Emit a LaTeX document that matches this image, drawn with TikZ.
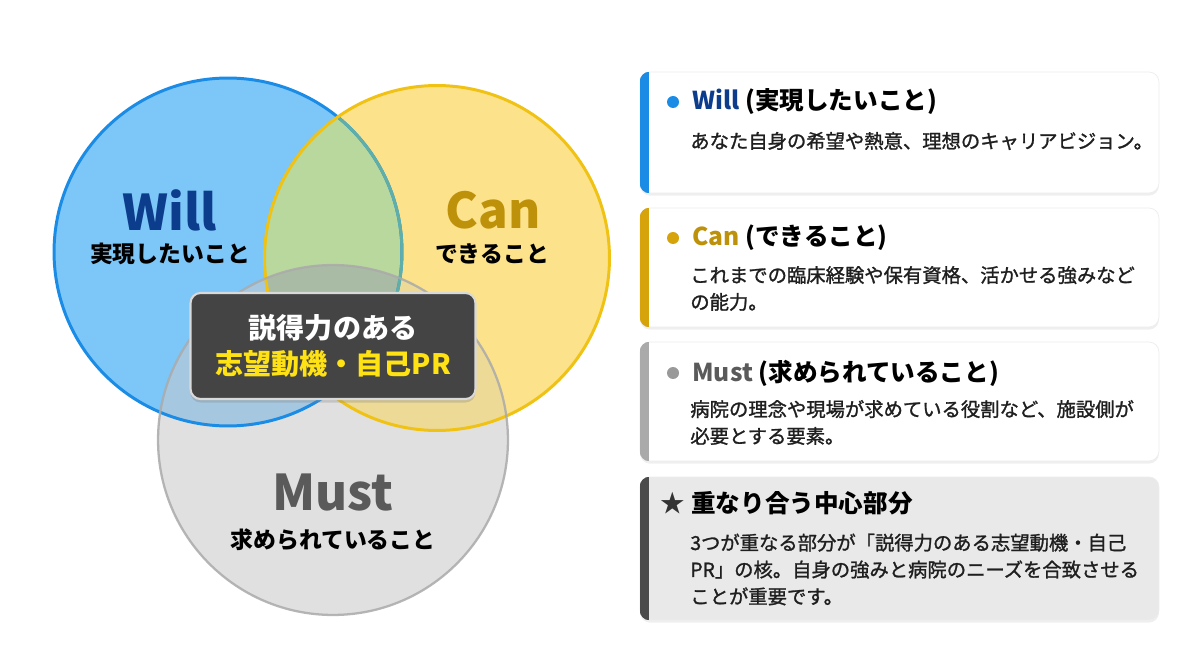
\documentclass[tikz,border=0pt]{standalone}
\usepackage{fontspec}
\setmainfont{Noto Sans CJK JP}
\newfontfamily\bodyfont{Noto Sans CJK JP}[FakeBold=1.3]
\usepackage{xcolor}
\usepackage{tikz}
\usetikzlibrary{positioning, calc, shadows}
\definecolor{willblue}{RGB}{26, 140, 230}
\definecolor{willfill}{RGB}{125, 198, 248}
\definecolor{willdark}{RGB}{12, 60, 140}
\definecolor{willteal}{RGB}{95, 175, 168}
\definecolor{cangold}{RGB}{240, 194, 20}
\definecolor{canfill}{RGB}{253, 226, 140}
\definecolor{candark}{RGB}{190, 145, 10}
\definecolor{canbar}{RGB}{214, 163, 10}
\definecolor{mustgray}{RGB}{170, 170, 170}
\definecolor{mustfill}{RGB}{224, 224, 224}
\definecolor{mustdark}{RGB}{90, 90, 90}
\definecolor{wcfill}{RGB}{185, 216, 157}
\definecolor{wmfill}{RGB}{166, 199, 224}
\definecolor{cmfill}{RGB}{237, 218, 150}
\definecolor{wcmfill}{RGB}{170, 187, 165}
\definecolor{coregray}{RGB}{68, 68, 68}
\definecolor{coreyellow}{RGB}{255, 226, 20}
\definecolor{cardgray}{RGB}{233, 233, 233}
\definecolor{stardark}{RGB}{75, 75, 75}
\tikzstyle{card} = [rectangle, draw=black!7, fill=white, rounded corners=0.2cm, minimum width=10.38cm, inner sep=0pt, drop shadow={shadow xshift=0pt, shadow yshift=-1.5pt, opacity=0.12}]
\tikzstyle{head} = [anchor=west, inner sep=0pt, font=\fontsize{14}{17}\bfseries]
\tikzstyle{body} = [anchor=west, inner sep=0pt, align=left, text=black!88, font=\bodyfont\fontsize{11}{15.3}\selectfont]
\tikzstyle{dot} = [circle, inner sep=0pt, minimum size=0.24cm]
\tikzstyle{bigword} = [inner sep=0pt, font=\fontsize{28}{28}\bfseries]
\tikzstyle{subword} = [inner sep=0pt, font=\fontsize{13}{16}\bfseries]

\begin{document}
\begin{tikzpicture}[x=0.02cm, y=-0.02cm]
    \useasboundingbox (0, 0) rectangle (1200, 672);
    \fill[white] (0, 0) rectangle (1200, 672);

    % Venn centres
    \coordinate (willc) at (228, 252);
    \coordinate (canc) at (437, 258);
    \coordinate (mustc) at (333, 440);

    % Plain fills
    \fill[willfill] (willc) circle[radius=3.48cm];
    \fill[canfill] (canc) circle[radius=3.45cm];
    \fill[mustfill] (mustc) circle[radius=3.5cm];

    % Overlaps
    \begin{scope}
        \clip (willc) circle[radius=3.48cm];
        \fill[wcfill] (canc) circle[radius=3.45cm];
        \fill[wmfill] (mustc) circle[radius=3.5cm];
    \end{scope}
    \begin{scope}
        \clip (canc) circle[radius=3.45cm];
        \fill[cmfill] (mustc) circle[radius=3.5cm];
    \end{scope}
    \begin{scope}
        \clip (willc) circle[radius=3.48cm];
        \clip (canc) circle[radius=3.45cm];
        \fill[wcmfill] (mustc) circle[radius=3.5cm];
    \end{scope}

    % Outlines
    \draw[willblue, line width=1.7pt] (willc) circle[radius=3.48cm];
    \begin{scope}
        \clip (canc) circle[radius=3.45cm];
        \draw[willteal, line width=1.7pt] (willc) circle[radius=3.48cm];
    \end{scope}
    \draw[cangold, line width=1.7pt] (canc) circle[radius=3.45cm];
    \draw[mustgray, line width=1.3pt, opacity=0.85] (mustc) circle[radius=3.5cm];

    % Circle labels
    \node[bigword, willdark] (willtitle) at (170, 210) {Will};
    \node[subword] (willsub) at (170, 254) {実現したいこと};
    \node[bigword, candark] (cantitle) at (493, 210) {Can};
    \node[subword] (cansub) at (492, 254) {できること};
    \node[bigword, mustdark] (musttitle) at (333, 493) {Must};
    \node[subword] (mustsub) at (333, 540) {求められていること};

    % Core box
    \node[rectangle, rounded corners=0.2cm, fill=coregray, draw=white!85!black, line width=1.2pt, minimum width=5.7cm, minimum height=2.12cm, align=center, text=white, font=\fontsize{16}{20.4}\bfseries, drop shadow={shadow xshift=0pt, shadow yshift=-2pt, opacity=0.3}] (core) at (333, 346) {説得力のある\\\textcolor{coreyellow}{志望動機・自己PR}};

    % Will card
    \node[card, minimum height=2.42cm] (willcard) at (899.5, 132.5) {};
    \begin{scope}
        \clip[rounded corners=0.2cm] (willcard.south west) rectangle (willcard.north east);
        \fill[willblue] (willcard.north west) rectangle ($(willcard.south west)+(9, 0)$);
    \end{scope}
    \node[dot, fill=willblue] (willdot) at (673, 102) {};
    \node[head, right=0.38cm of willdot.center] (willhead) {\textcolor{willdark}{Will} (実現したいこと)};
    \node[body] (willbody) at (690, 141) {あなた自身の希望や熱意、理想のキャリアビジョン。};

    % Can card
    \node[card, minimum height=2.38cm] (cancard) at (899.5, 267.5) {};
    \begin{scope}
        \clip[rounded corners=0.2cm] (cancard.south west) rectangle (cancard.north east);
        \fill[canbar] (cancard.north west) rectangle ($(cancard.south west)+(9, 0)$);
    \end{scope}
    \node[dot, fill=canbar] (candot) at (673, 238) {};
    \node[head, right=0.38cm of candot.center] (canhead) {\textcolor{candark}{Can} (できること)};
    \node[body] (canbody) at (690, 288.5) {これまでの臨床経験や保有資格、活かせる強みなど\\の能力。};

    % Must card
    \node[card, minimum height=2.38cm] (mustcard) at (899.5, 401.5) {};
    \begin{scope}
        \clip[rounded corners=0.2cm] (mustcard.south west) rectangle (mustcard.north east);
        \fill[mustgray] (mustcard.north west) rectangle ($(mustcard.south west)+(9, 0)$);
    \end{scope}
    \node[dot, fill=mustgray!90!black] (mustdot) at (673, 373) {};
    \node[head, right=0.38cm of mustdot.center] (musthead) {\textcolor{mustdark}{Must} (求められていること)};
    \node[body] (mustbody) at (690, 422.5) {病院の理念や現場が求めている役割など、施設側が\\必要とする要素。};

    % Core card
    \node[card, fill=cardgray, minimum height=2.86cm] (corecard) at (899.5, 548.5) {};
    \begin{scope}
        \clip[rounded corners=0.2cm] (corecard.south west) rectangle (corecard.north east);
        \fill[stardark] (corecard.north west) rectangle ($(corecard.south west)+(9, 0)$);
    \end{scope}
    \node[inner sep=0pt, font=\fontsize{14}{16}\selectfont, text=black!80] (corestar) at (673, 503) {★};
    \node[head, right=0.36cm of corestar.center] (corehead) {重なり合う中心部分};
    \node[body] (corebody) at (690, 569.5) {3つが重なる部分が「説得力のある志望動機・自己\\PR」の核。自身の強みと病院のニーズを合致させる\\ことが重要です。};
\end{tikzpicture}
\end{document}
